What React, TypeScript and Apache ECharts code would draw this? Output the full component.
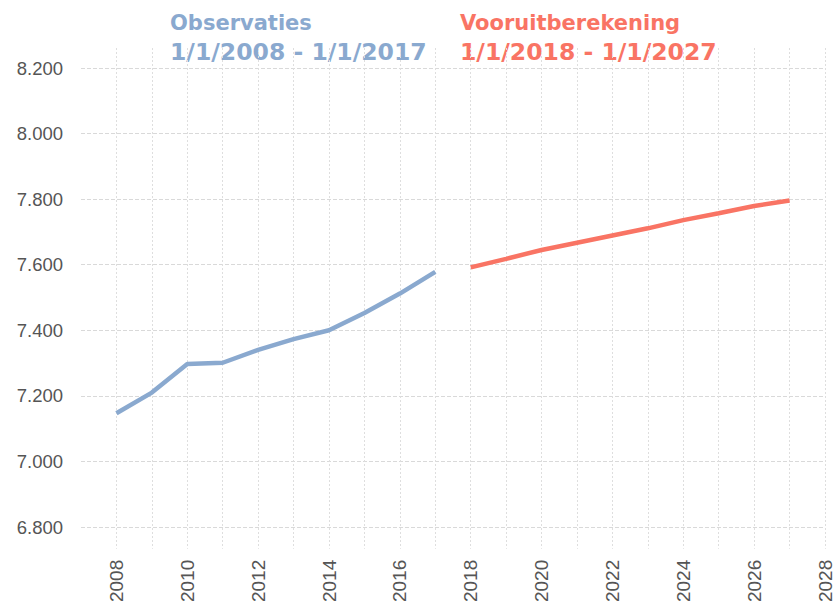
import React, { useEffect, useRef } from "react";
import * as echarts from "echarts";

const obsYears = [2008, 2009, 2010, 2011, 2012, 2013, 2014, 2015, 2016, 2017];
const obsValues = [7147, 7210, 7297, 7301, 7340, 7373, 7400, 7453, 7512, 7578];
const projYears = [2018, 2019, 2020, 2021, 2022, 2023, 2024, 2025, 2026, 2027];
const projValues = [7592, 7618, 7645, 7667, 7689, 7711, 7736, 7757, 7779, 7796];
const titleObs = ["Observaties", "1/1/2008 - 1/1/2017"];
const titleProj = ["Vooruitberekening", "1/1/2018 - 1/1/2027"];

const BLUE = "#8aa9cf";
const RED = "#f97464";

export default function App() {
  const ref = useRef<HTMLDivElement>(null);
  useEffect(() => {
    if (!ref.current) return;
    const chart = echarts.init(ref.current, null, { renderer: "svg" });
    const fmtY = (v: number) => (v / 1000).toFixed(3);
    const xBase = {
      type: "value" as const,
      min: 2007,
      max: 2028,
      interval: 1,
      axisLine: { show: false },
      axisTick: { show: false },
    };
    const t1 = "bold 21px 'DejaVu Sans', Verdana, sans-serif";
    const t2 = "bold 23.5px 'DejaVu Sans', Verdana, sans-serif";
    chart.setOption({
      animation: false,
      backgroundColor: "#ffffff",
      grid: [
        { left: 81, right: 10, top: 68, bottom: 78 },
        { left: 81, right: 10, top: 48, bottom: 55 },
      ],
      xAxis: [
        {
          ...xBase,
          gridIndex: 0,
          axisLabel: { show: false },
          splitLine: { show: false },
        },
        {
          ...xBase,
          gridIndex: 1,
          axisLabel: {
            rotate: 90,
            margin: 11,
            color: "#555555",
            fontSize: 19,
            fontFamily: "Liberation Sans, Arial, sans-serif",
            formatter: (v: number) => (v % 2 === 0 ? String(v) : ""),
          },
          splitLine: {
            show: true,
            showMinLine: false,
            showMaxLine: true,
            lineStyle: { color: "#dedede", type: [2, 2], width: 1 },
          },
        },
      ],
      yAxis: [
        {
          type: "value",
          gridIndex: 0,
          min: 6800,
          max: 8200,
          interval: 200,
          axisLine: { show: false },
          axisTick: { show: false },
          axisLabel: {
            margin: 18,
            color: "#555555",
            fontSize: 18.5,
            fontFamily: "Liberation Sans, Arial, sans-serif",
            formatter: fmtY,
          },
          splitLine: {
            show: true,
            lineStyle: { color: "#d9d9d9", type: [4, 2], width: 1 },
          },
        },
        {
          type: "value",
          gridIndex: 1,
          min: 0,
          max: 1,
          show: false,
        },
      ],
      graphic: [
        { type: "text", left: 170, top: 12, style: { text: titleObs[0], fill: BLUE, font: t1 } },
        { type: "text", left: 170, top: 40, style: { text: titleObs[1], fill: BLUE, font: t2 } },
        { type: "text", left: 460, top: 12, style: { text: titleProj[0], fill: RED, font: t1 } },
        { type: "text", left: 460, top: 40, style: { text: titleProj[1], fill: RED, font: t2 } },
      ],
      series: [
        {
          type: "line",
          xAxisIndex: 0,
          yAxisIndex: 0,
          data: obsYears.map((y, i) => [y, obsValues[i]]),
          symbol: "none",
          lineStyle: { color: BLUE, width: 4.5 },
        },
        {
          type: "line",
          xAxisIndex: 0,
          yAxisIndex: 0,
          data: projYears.map((y, i) => [y, projValues[i]]),
          symbol: "none",
          lineStyle: { color: RED, width: 4.5 },
        },
      ],
    });
    return () => chart.dispose();
  }, []);
  return (
    <div
      ref={ref}
      style={{ position: "fixed", left: 0, top: 0, width: 835, height: 605, background: "#fff" }}
    />
  );
}
